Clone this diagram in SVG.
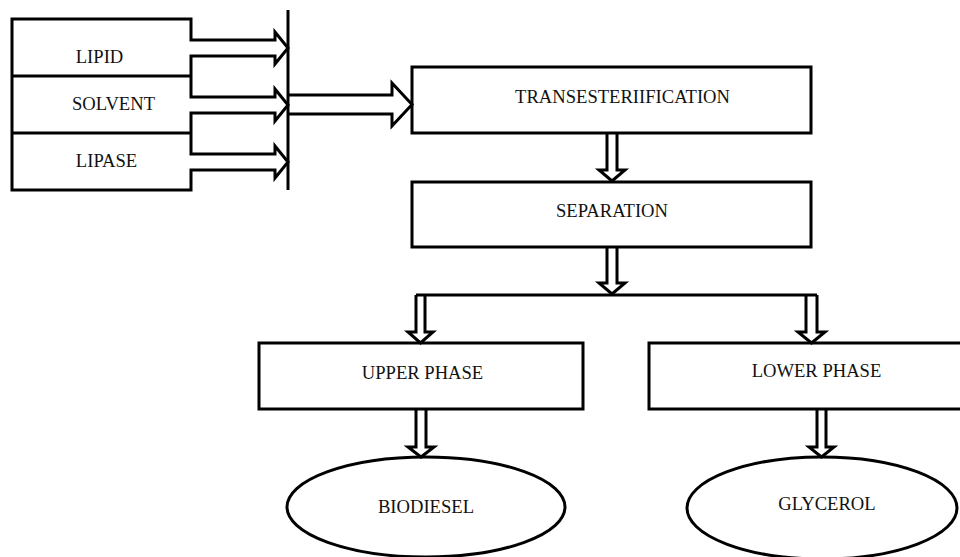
<svg xmlns="http://www.w3.org/2000/svg" width="960" height="557" viewBox="0 0 960 557">
<style>
.s{fill:none;stroke:#000;stroke-width:3;stroke-linejoin:miter}
.b{fill:#fff;stroke:#000;stroke-width:3}
.t{font-family:"Liberation Serif","Times New Roman",serif;font-size:18.6px;fill:#111;text-anchor:middle}
</style>
<rect width="960" height="557" fill="#fff"/>
<g id="inputs">
<path class="s" d="M191,19 H12 V190 H191 V170 H275 V178 L288,162 L275,146 V154 H191 V113 H275 V121 L288,105 L275,89 V97 H191 V56 H275 V64 L288,48 L275,32 V40 H191 Z"/>
<path class="s" d="M12,76 H191 M12,133 H191"/>
<text class="t" x="99.5" y="63">LIPID</text>
<text class="t" x="113.5" y="110">SOLVENT</text>
<text class="t" x="106.5" y="167">LIPASE</text>
</g>
<g id="trans">
<rect class="b" x="412" y="67" width="399" height="66"/>
<text class="t" x="622.5" y="103">TRANSESTERIIFICATION</text>
</g>
<g id="sep">
<rect class="b" x="412" y="182" width="399" height="65"/>
<text class="t" x="612" y="217">SEPARATION</text>
</g>
<g id="upper">
<rect class="b" x="259" y="343" width="324" height="66"/>
<text class="t" x="422.5" y="379">UPPER PHASE</text>
</g>
<g id="lower">
<rect class="b" x="649" y="343" width="340" height="66"/>
<text class="t" x="816.5" y="377">LOWER PHASE</text>
</g>
<g id="biodiesel">
<ellipse class="b" cx="426" cy="507" rx="139" ry="50"/>
<text class="t" x="426" y="513">BIODIESEL</text>
</g>
<g id="glycerol">
<ellipse class="b" cx="822" cy="508" rx="135" ry="51"/>
<text class="t" x="827" y="510">GLYCEROL</text>
</g>
<g id="connectors">
<path class="s" d="M288,10 V190"/>
<path class="s" d="M288,95 H392 V83 L412,104.5 L392,126 V114 H288"/>
<path class="s" d="M607,133 V170 H599 L612,181 L625,170 H617 V133"/>
<path class="s" d="M607,247 V283 H599 L612,294 L625,283 H617 V247"/>
<path class="s" d="M416,295 H817"/>
<path class="s" d="M416,295 V332 H408 L420.5,343 L433,332 H425 V295"/>
<path class="s" d="M806,295 V332 H798 L811.5,343 L825,332 H817 V295"/>
<path class="s" d="M416,409 V447 H408 L421,457 L434,447 H426 V409"/>
<path class="s" d="M817,409 V447 H809 L821.5,457 L834,447 H826 V409"/>
</g>
</svg>
